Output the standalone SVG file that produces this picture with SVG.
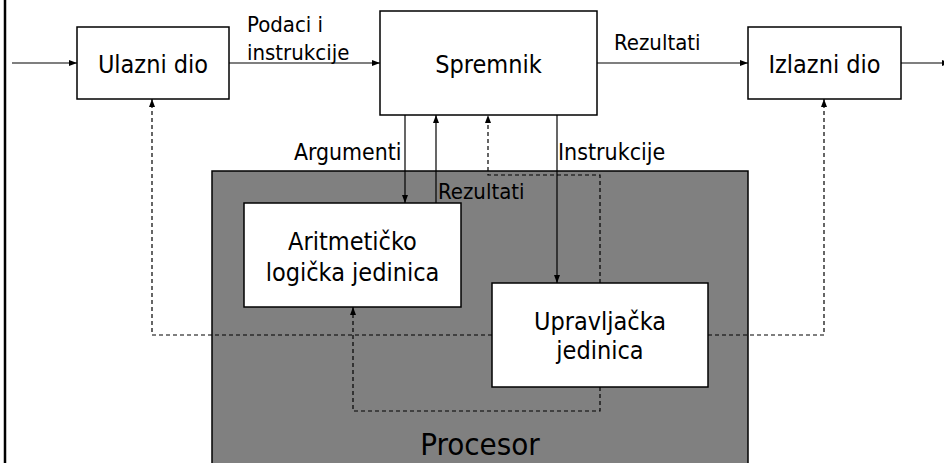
<svg xmlns="http://www.w3.org/2000/svg" width="944" height="463" viewBox="0 0 944 463">
  <style>
    .box { fill: #ffffff; stroke: #000000; stroke-width: 1.5; }
    .proc { fill: #808080; stroke: #000000; stroke-width: 1.5; }
    .node { font-family: "DejaVu Sans Condensed", "DejaVu Sans", sans-serif; font-stretch: condensed; font-size: 25px; fill: #000000; text-anchor: middle; }
    .lbl { font-family: "DejaVu Sans Condensed", "DejaVu Sans", sans-serif; font-stretch: condensed; font-size: 22px; fill: #000000; }
    .solid { fill: none; stroke: #000000; stroke-width: 1.2; }
    .dash { fill: none; stroke: #000000; stroke-width: 1.2; stroke-dasharray: 4 3; }
  </style>
  <defs>
    <marker id="arr" viewBox="0 0 8 6" refX="8" refY="3" markerWidth="8" markerHeight="6" markerUnits="userSpaceOnUse" orient="auto">
      <path d="M0,0 L8,3 L0,6 z" fill="#000000"/>
    </marker>
  </defs>
  <rect x="0" y="0" width="944" height="463" fill="#ffffff"/>
  <line x1="5" y1="0" x2="5" y2="463" stroke="#000000" stroke-width="2.5"/>

  <g id="procesor">
    <rect class="proc" x="212" y="171" width="536" height="300"/>
    <text class="node" x="480" y="455" style="font-size:31px">Procesor</text>
  </g>

  <g id="connectors">
    <path class="solid" d="M12,63 H77" marker-end="url(#arr)"/>
    <path class="solid" d="M229,63 H380" marker-end="url(#arr)"/>
    <path class="solid" d="M597,63 H748" marker-end="url(#arr)"/>
    <path class="solid" d="M901,63 H950" marker-end="url(#arr)"/>
    <path class="solid" d="M405,115 V203" marker-end="url(#arr)"/>
    <path class="solid" d="M436,203 V115" marker-end="url(#arr)"/>
    <path class="solid" d="M557,115 V283" marker-end="url(#arr)"/>
    <path class="dash" d="M600,283 V175 H488 V115" marker-end="url(#arr)"/>
    <path class="dash" d="M492,335 H152 V99" marker-end="url(#arr)"/>
    <path class="dash" d="M708,335 H824 V99" marker-end="url(#arr)"/>
    <path class="dash" d="M600,387 V411 H353 V307" marker-end="url(#arr)"/>
    <text class="lbl" x="247" y="32">Podaci i</text>
    <text class="lbl" x="247" y="60">instrukcije</text>
    <text class="lbl" x="614" y="50">Rezultati</text>
    <text class="lbl" x="294" y="160" style="font-size:22.8px">Argumenti</text>
    <text class="lbl" x="558" y="160" style="font-size:23px">Instrukcije</text>
    <text class="lbl" x="438" y="199">Rezultati</text>
  </g>

  <g id="ulazni">
    <rect class="box" x="77" y="27" width="152" height="72"/>
    <text class="node" x="153" y="73">Ulazni dio</text>
  </g>
  <g id="spremnik">
    <rect class="box" x="380" y="11" width="217" height="104"/>
    <text class="node" x="488.5" y="73">Spremnik</text>
  </g>
  <g id="izlazni">
    <rect class="box" x="748" y="27" width="153" height="72"/>
    <text class="node" x="824.5" y="73">Izlazni dio</text>
  </g>
  <g id="alu">
    <rect class="box" x="244" y="203" width="217" height="104"/>
    <text class="node" x="352.5" y="250">Aritmetičko</text>
    <text class="node" x="352.5" y="281">logička jedinica</text>
  </g>
  <g id="cu">
    <rect class="box" x="492" y="283" width="216" height="104"/>
    <text class="node" x="600" y="330">Upravljačka</text>
    <text class="node" x="600" y="359">jedinica</text>
  </g>
</svg>
